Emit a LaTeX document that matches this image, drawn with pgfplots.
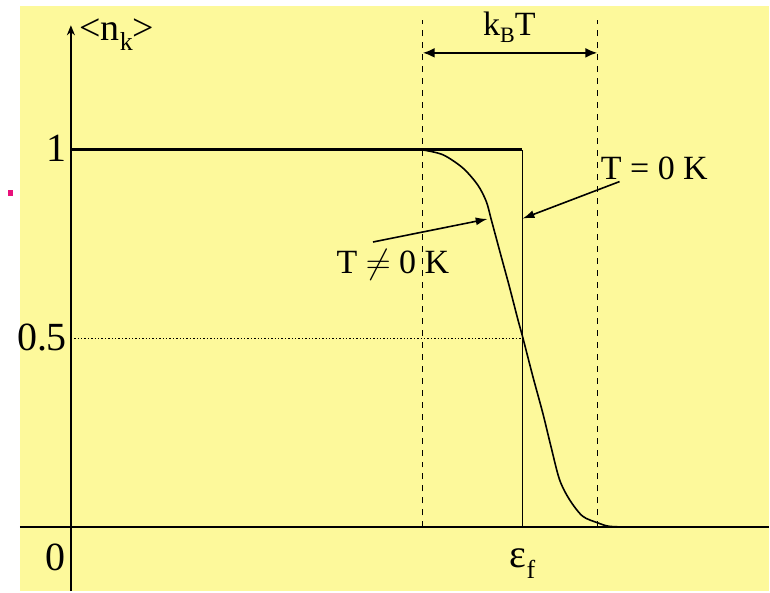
\documentclass[border=0pt]{standalone}
\usepackage{pgfplots}
\pgfplotsset{compat=1.18}
\usepackage{fontspec}
\setmainfont{Liberation Serif}
\usetikzlibrary{arrows.meta}

\definecolor{bg}{RGB}{253,249,155}
\definecolor{dotpink}{RGB}{232,16,122}

\begin{document}
\begin{tikzpicture}
\begin{axis}[
    scale only axis,
    width=385pt, height=296pt,
    xmin=-0.157, xmax=1.546,
    ymin=-0.169, ymax=1.397,
    hide axis, clip=false,
    ]

% page and slide background
\fill[white] (axis cs:-0.157,-0.169) rectangle (axis cs:1.546,1.397);
\fill[bg] (axis cs:-0.113,-0.169) rectangle (axis cs:1.546,1.381);
\fill[dotpink] (axis cs:-0.140,0.878) rectangle (axis cs:-0.128,0.894);

% axes
\draw[line width=1pt] (axis cs:-0.113,0) -- (axis cs:1.546,0);
\draw[line width=1pt,-{Stealth[length=5pt,width=4pt]}] (axis cs:0,-0.169) -- (axis cs:0,1.33);

% T = 0 K step
\addplot[black, line width=1.5pt] coordinates {(0,1) (1,1)};
\addplot[black, line width=0.7pt] coordinates {(1,1) (1,0)};

% 0.5 guide
\addplot[black, densely dotted, line width=0.7pt] coordinates {(0,0.5) (1,0.5)};

% k_B T limits
\addplot[black, dashed, line width=0.7pt] coordinates {(0.779,0) (0.779,1.344)};
\addplot[black, dashed, line width=0.7pt] coordinates {(1.166,0) (1.166,1.344)};

% T != 0 K curve
\addplot[black, line width=0.8pt, smooth, tension=0.5] coordinates {
    (0.779,1.000)
    (0.824,0.987)
    (0.868,0.952)
    (0.901,0.907)
    (0.920,0.863)
    (0.931,0.815)
    (0.949,0.735)
    (0.971,0.638)
    (0.990,0.550)
    (1.001,0.502)
    (1.023,0.400)
    (1.045,0.303)
    (1.063,0.215)
    (1.082,0.127)
    (1.104,0.074)
    (1.133,0.030)
    (1.167,0.012)
    (1.192,0.003)
    (1.233,0.001)
};

% k_B T arrow
\draw[line width=1.2pt,{Latex[length=6pt,width=5pt]}-{Latex[length=6pt,width=5pt]}]
    (axis cs:0.779,1.257) -- (axis cs:1.166,1.257);
\node[font=\fontsize{17}{20}\selectfont] at (axis cs:0.971,1.325)
    {k\raisebox{-0.45ex}{\fontsize{11}{12}\selectfont B}T};

% annotations
\draw[line width=0.8pt,-{Latex[length=6pt,width=4pt]}]
    (axis cs:1.215,0.916) -- (axis cs:1.0,0.818);
\node[font=\fontsize{17}{20}\selectfont] at (axis cs:1.292,0.952) {T = 0 K};
\draw[line width=0.8pt,-{Latex[length=6pt,width=4pt]}]
    (axis cs:0.669,0.756) -- (axis cs:0.923,0.817);
\node[font=\fontsize{17}{20}\selectfont] at (axis cs:0.713,0.696) {T $\neq$ 0 K};

% tick labels
\node[font=\fontsize{20}{24}\selectfont] at (axis cs:-0.031,1.003) {1};
\node[font=\fontsize{20}{24}\selectfont] at (axis cs:-0.064,0.503) {0.5};
\node[font=\fontsize{20}{24}\selectfont] at (axis cs:-0.035,-0.079) {0};
\node[font=\fontsize{20}{24}\selectfont] at (axis cs:1.0,-0.095)
    {ε\raisebox{-0.6ex}{\fontsize{13}{14}\selectfont f}};

% y label
\node[anchor=base west, inner sep=0pt, font=\fontsize{19}{22}\selectfont]
    at (axis cs:0.018,1.29) {<n\raisebox{-0.6ex}{\fontsize{13}{14}\selectfont k}>};

\end{axis}
\end{tikzpicture}
\end{document}
